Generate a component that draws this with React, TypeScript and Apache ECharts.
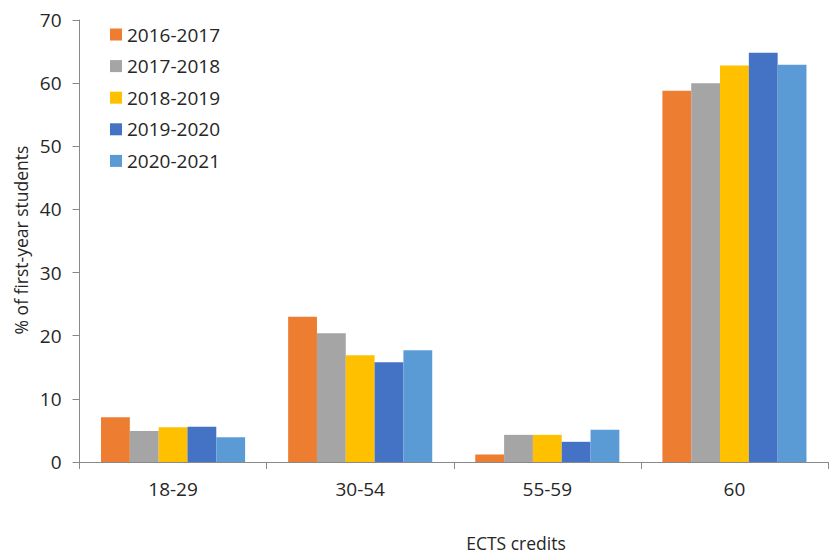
import React, { useEffect, useRef } from "react";
import * as echarts from "echarts";

// ECTS credit bands on the x axis
const categories = ["18-29", "30-54", "55-59", "60"];

// Academic years shown as series
const years = ["2016-2017", "2017-2018", "2018-2019", "2019-2020", "2020-2021"];

// % of first-year students per credit band, one array per academic year
const y2016 = [7.1, 23.0, 1.2, 58.8];
const y2017 = [4.9, 20.4, 4.3, 60.0];
const y2018 = [5.5, 16.9, 4.3, 62.8];
const y2019 = [5.6, 15.8, 3.2, 64.8];
const y2020 = [3.9, 17.7, 5.1, 62.9];

const seriesValues = [y2016, y2017, y2018, y2019, y2020];
const colors = ["#ED7D31", "#A5A5A5", "#FFC000", "#4472C4", "#5B9BD5"];

const FONT = "'Open Sans', 'Liberation Sans', sans-serif";

export default function App() {
  const ref = useRef<HTMLDivElement>(null);

  useEffect(() => {
    if (!ref.current) return;
    const chart = echarts.init(ref.current, undefined, { renderer: "svg" });
    chart.setOption({
      animation: false,
      textStyle: { fontFamily: FONT, color: "#262626" },
      color: colors,
      grid: { left: 79.5, right: 1, top: 20, bottom: 93, containLabel: false },
      legend: {
        orient: "vertical",
        left: 105,
        top: 20,
        itemWidth: 12,
        itemHeight: 12,
        itemGap: 12.6,
        icon: "rect",
        textStyle: { fontFamily: FONT, fontSize: 19, color: "#262626" },
        data: years,
      },
      xAxis: {
        type: "category",
        data: categories,
        axisLine: { lineStyle: { color: "#898989", width: 1 } },
        axisTick: { show: true, length: 7, lineStyle: { color: "#898989" } },
        axisLabel: { fontFamily: FONT, fontSize: 19, color: "#262626", margin: 17 },
        splitLine: { show: false },
      },
      yAxis: {
        type: "value",
        min: 0,
        max: 70,
        interval: 10,
        axisLine: { show: true, lineStyle: { color: "#898989", width: 1 } },
        axisTick: { show: true, length: 7, lineStyle: { color: "#898989" } },
        axisLabel: { fontFamily: FONT, fontSize: 19, color: "#262626", margin: 18 },
        splitLine: { show: false },
      },
      graphic: [
        {
          type: "text",
          x: 21,
          y: 240,
          rotation: Math.PI / 2,
          style: {
            text: "% of first-year students",
            font: `17.5px ${FONT}`,
            fill: "#262626",
            align: "center",
            verticalAlign: "middle",
          },
        },
        {
          type: "text",
          x: 516,
          y: 543,
          style: {
            text: "ECTS credits",
            font: `17.5px ${FONT}`,
            fill: "#262626",
            align: "center",
            verticalAlign: "middle",
          },
        },
      ],
      series: years.map((name, i) => ({
        name,
        type: "bar",
        data: seriesValues[i],
        barGap: "0%",
        barCategoryGap: "23%",
        itemStyle: { color: colors[i] },
      })),
    });
    return () => chart.dispose();
  }, []);

  return (
    <div
      ref={ref}
      style={{ position: "absolute", left: 0, top: 0, width: 829, height: 555 }}
    />
  );
}
